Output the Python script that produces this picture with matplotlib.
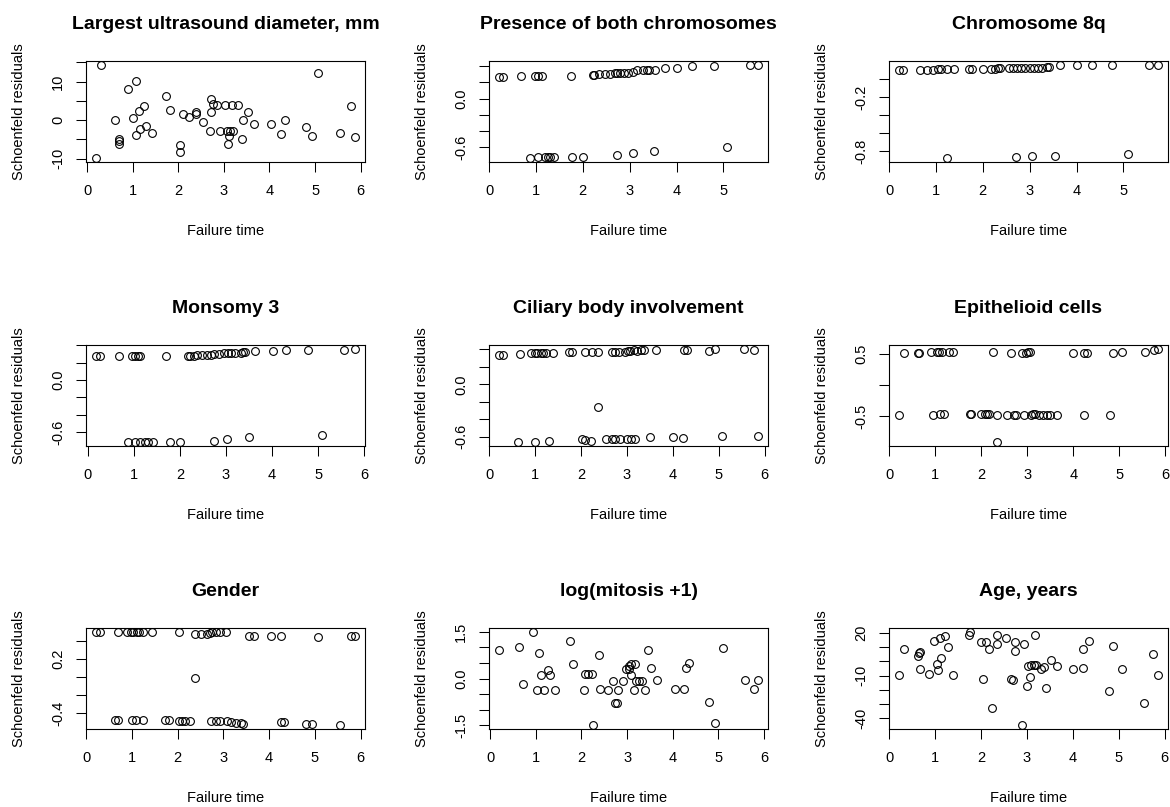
import matplotlib
matplotlib.use("Agg")
import matplotlib.pyplot as plt
from matplotlib.ticker import MultipleLocator

plt.rcParams['font.family'] = ['Liberation Sans', 'DejaVu Sans']

# panel titles
titles = ["Largest ultrasound diameter, mm", "Presence of both chromosomes", "Chromosome 8q",
          "Monsomy 3", "Ciliary body involvement", "Epithelioid cells",
          "Gender", "log(mitosis +1)", "Age, years"]

# Largest ultrasound diameter
t_diam = [0.20, 0.31, 0.62, 0.69, 0.69, 0.69, 0.90, 1.00, 1.07, 1.06, 1.14, 1.15, 1.25, 1.28, 1.43,
          1.73, 1.81, 2.03, 2.03, 2.10, 2.24, 2.38, 2.39, 2.55, 2.69, 2.72, 2.72, 2.77, 2.85, 2.92,
          3.03, 3.06, 3.08, 3.12, 3.14, 3.18, 3.19, 3.32, 3.39, 3.42, 3.52, 3.66, 4.04, 4.25, 4.35,
          4.80, 4.93, 5.07, 5.55, 5.80, 5.87]
r_diam = [-9.9, 14.4, 0.0, -4.9, -5.5, -6.2, 8.1, 0.5, 10.3, -3.8, 2.5, -2.3, 3.6, -1.4, -3.3,
          6.4, 2.7, -6.5, -8.4, 1.5, 0.8, 2.0, 1.5, -0.5, -2.9, 5.6, 2.0, 4.1, 4.0, -2.9,
          4.0, -2.9, -6.1, -4.1, -2.9, 4.0, -2.9, 4.0, -4.9, 0.0, 2.0, -0.9, -0.9, -3.6, 0.0,
          -1.9, -4.2, 12.3, -3.3, 3.6, -4.5]

# Presence of both chromosomes
t_both = [0.22, 0.30, 0.68, 0.98, 1.05, 1.12, 1.74, 2.21, 2.24, 2.35, 2.47, 2.58, 2.68, 2.73,
          2.79, 2.87, 2.97, 3.07, 3.16, 3.28, 3.38, 3.42, 3.55, 3.75, 4.00, 4.34, 4.79, 5.57, 5.73,
          0.88, 1.04, 1.20, 1.25, 1.31, 1.38, 1.76, 2.00, 2.73, 3.07, 3.51, 5.07]
r_both = [0.27, 0.27, 0.28, 0.28, 0.28, 0.28, 0.28, 0.29, 0.29, 0.30, 0.31, 0.31, 0.32, 0.32,
          0.32, 0.32, 0.32, 0.33, 0.35, 0.35, 0.36, 0.36, 0.36, 0.38, 0.38, 0.40, 0.40, 0.42, 0.42,
          -0.74, -0.73, -0.72, -0.72, -0.72, -0.72, -0.72, -0.72, -0.70, -0.68, -0.65, -0.60]

# Chromosome 8q
t_8q = [0.22, 0.29, 0.67, 0.82, 0.94, 1.05, 1.11, 1.24, 1.39, 1.71, 1.77, 2.00, 2.18, 2.26, 2.33,
        2.36, 2.55, 2.65, 2.74, 2.81, 2.91, 3.00, 3.09, 3.17, 3.27, 3.36, 3.41, 3.65, 4.00, 4.33,
        4.76, 5.55, 5.73, 1.23, 2.71, 3.05, 3.53, 5.10]
r_8q = [0.105, 0.105, 0.105, 0.105, 0.105, 0.11, 0.11, 0.11, 0.11, 0.11, 0.11, 0.11, 0.115, 0.115,
        0.12, 0.12, 0.125, 0.125, 0.125, 0.125, 0.125, 0.125, 0.125, 0.125, 0.125, 0.13, 0.14,
        0.155, 0.155, 0.155, 0.155, 0.16, 0.16, -0.88, -0.867, -0.85, -0.85, -0.83]

# Monosomy 3
t_mono = [0.19, 0.26, 0.68, 0.97, 1.03, 1.10, 1.14, 1.70, 2.17, 2.23, 2.30, 2.38, 2.48, 2.58, 2.67,
          2.73, 2.85, 2.95, 3.05, 3.12, 3.20, 3.32, 3.38, 3.42, 3.62, 4.01, 4.31, 4.77, 5.56, 5.79,
          0.87, 1.03, 1.14, 1.24, 1.30, 1.41, 1.78, 2.01, 2.73, 3.03, 3.51, 5.08]
r_mono = [0.271, 0.271, 0.271, 0.271, 0.271, 0.279, 0.279, 0.271, 0.271, 0.271, 0.279, 0.287, 0.29,
          0.29, 0.29, 0.295, 0.302, 0.306, 0.306, 0.306, 0.31, 0.31, 0.318, 0.326, 0.33, 0.33,
          0.345, 0.349, 0.349, 0.36,
          -0.717, -0.717, -0.717, -0.717, -0.717, -0.717, -0.717, -0.717, -0.698, -0.682, -0.659,
          -0.636]

# Ciliary body involvement
t_cil = [0.22, 0.30, 0.68, 0.90, 1.00, 1.05, 1.12, 1.17, 1.23, 1.38, 1.73, 1.80, 2.08, 2.23, 2.38,
         2.67, 2.75, 2.82, 2.95, 3.03, 3.07, 3.15, 3.22, 3.30, 3.38, 3.63, 4.25, 4.30, 4.78, 4.92,
         5.55, 5.78, 2.37,
         0.62, 1.00, 1.30, 2.03, 2.08, 2.22, 2.55, 2.68, 2.75, 2.85, 3.00, 3.10, 3.17, 3.50, 4.00,
         4.22, 5.08, 5.85]
r_cil = [0.335, 0.335, 0.342, 0.354, 0.354, 0.354, 0.354, 0.354, 0.354, 0.354, 0.373, 0.373, 0.373,
         0.373, 0.373, 0.373, 0.373, 0.373, 0.373, 0.38, 0.38, 0.392, 0.38, 0.392, 0.392, 0.392,
         0.392, 0.392, 0.385, 0.408, 0.408, 0.392, -0.26,
         -0.665, -0.665, -0.646, -0.627, -0.638, -0.646, -0.627, -0.627, -0.627, -0.627, -0.627,
         -0.627, -0.627, -0.608, -0.608, -0.62, -0.592, -0.592]

# Epithelioid cells
t_epi = [0.32, 0.62, 0.65, 0.90, 1.03, 1.08, 1.15, 1.30, 1.38, 2.25, 2.65, 2.88, 2.98, 3.02, 3.05,
         4.00, 4.22, 4.30, 4.87, 5.05, 5.55, 5.75, 5.83,
         0.22, 0.95, 1.10, 1.20, 1.75, 1.77, 2.00, 2.07, 2.12, 2.17, 2.35, 2.55, 2.72, 2.75, 2.92,
         3.07, 3.12, 3.17, 3.25, 3.35, 3.42, 3.50, 3.65, 4.22, 4.80, 2.35]
r_epi = [0.51, 0.51, 0.51, 0.53, 0.53, 0.53, 0.53, 0.53, 0.53, 0.53, 0.51, 0.51, 0.52, 0.54, 0.54,
         0.51, 0.51, 0.51, 0.51, 0.54, 0.54, 0.565, 0.585,
         -0.484, -0.484, -0.462, -0.462, -0.462, -0.462, -0.462, -0.462, -0.462, -0.462, -0.484,
         -0.484, -0.484, -0.484, -0.484, -0.484, -0.462, -0.473, -0.484, -0.484, -0.484, -0.484,
         -0.484, -0.484, -0.484, -0.92]

# Gender
t_gen = [0.22, 0.30, 0.70, 0.90, 0.97, 1.03, 1.10, 1.15, 1.25, 1.43, 2.03, 2.38, 2.50, 2.63, 2.70,
         2.75, 2.83, 2.92, 3.05, 3.55, 3.67, 4.03, 4.25, 5.07, 5.80, 5.87, 2.38,
         0.62, 0.70, 1.00, 1.08, 1.25, 1.73, 1.80, 2.03, 2.10, 2.17, 2.27, 2.72, 2.83, 2.93, 3.08,
         3.17, 3.28, 3.38, 3.42, 4.25, 4.32, 4.80, 4.93, 5.55]
r_gen = [0.498, 0.498, 0.498, 0.498, 0.498, 0.498, 0.498, 0.498, 0.505, 0.505, 0.498, 0.479, 0.479,
         0.479, 0.49, 0.505, 0.505, 0.505, 0.505, 0.46, 0.46, 0.46, 0.46, 0.442, 0.46, 0.46, -0.012,
         -0.47, -0.47, -0.47, -0.47, -0.47, -0.47, -0.47, -0.488, -0.488, -0.488, -0.488, -0.488,
         -0.488, -0.488, -0.488, -0.496, -0.507, -0.507, -0.518, -0.5, -0.5, -0.518, -0.518, -0.533]

# log(mitosis + 1)
t_mit = [0.20, 0.64, 0.71, 0.93, 1.02, 1.08, 1.11, 1.17, 1.26, 1.30, 1.43, 1.74, 1.82, 2.05, 2.08,
         2.14, 2.22, 2.26, 2.39, 2.40, 2.57, 2.69, 2.73, 2.77, 2.81, 2.91, 2.97, 3.04, 3.05, 3.08,
         3.09, 3.14, 3.18, 3.20, 3.27, 3.32, 3.39, 3.46, 3.52, 3.66, 4.04, 4.25, 4.28, 4.35, 4.80,
         4.92, 5.09, 5.58, 5.78, 5.86]
r_mit = [0.91, 1.00, -0.19, 1.50, -0.38, 0.81, 0.11, -0.38, 0.27, 0.11, -0.38, 1.21, 0.46, -0.38,
         0.15, 0.15, 0.15, -1.50, 0.75, -0.34, -0.38, -0.08, -0.78, -0.78, -0.38, -0.08, 0.31, 0.41,
         0.31, 0.11, 0.46, -0.38, 0.46, -0.08, -0.08, -0.08, -0.38, 0.91, 0.35, -0.04, -0.34, -0.34,
         0.35, 0.51, -0.75, -1.44, 0.97, -0.04, -0.34, -0.04]

# Age, years
t_age = [0.22, 0.32, 0.63, 0.65, 0.68, 0.68, 0.86, 0.97, 1.05, 1.07, 1.10, 1.12, 1.22, 1.28, 1.38,
         1.73, 1.77, 2.00, 2.05, 2.10, 2.18, 2.25, 2.35, 2.35, 2.55, 2.65, 2.70, 2.73, 2.75, 2.90,
         2.93, 3.00, 3.02, 3.07, 3.10, 3.15, 3.18, 3.20, 3.30, 3.38, 3.42, 3.52, 3.65, 4.00, 4.22,
         4.23, 4.35, 4.80, 4.88, 5.07, 5.55, 5.75, 5.85]
r_age = [-9.8, 9.1, 4.2, 5.8, 7.0, -5.4, -8.9, 14.5, -1.6, -6.3, 16.6, 2.3, 17.8, 10.0, -9.8,
         18.7, 21.0, 13.6, -12.1, 13.6, 8.6, -33.2, 18.9, 12.4, 16.6, -12.1, -12.9, 13.6, 7.5, -45.1,
         12.4, -17.5, -3.5, -11.0, -2.3, -2.3, 18.9, -2.3, -5.4, -4.0, -18.7, 1.2, -3.0, -5.4, 8.6,
         -4.7, 14.3, -21.0, 11.0, -5.4, -29.7, 5.4, -9.8]

times = [t_diam, t_both, t_8q, t_mono, t_cil, t_epi, t_gen, t_mit, t_age]
resids = [r_diam, r_both, r_8q, r_mono, r_cil, r_epi, r_gen, r_mit, r_age]

# y ticks and which of them carry a label (R drops overlapping ones)
yticks = [[-10, -5, 0, 5, 10, 15], [-0.6, -0.4, -0.2, 0.0, 0.2, 0.4], [-0.8, -0.6, -0.4, -0.2, 0.0],
          [-0.6, -0.4, -0.2, 0.0, 0.2, 0.4], [-0.6, -0.4, -0.2, 0.0, 0.2, 0.4], [-0.5, 0.0, 0.5],
          [-0.4, -0.2, 0.0, 0.2, 0.4], [-1.5, -1.0, -0.5, 0.0, 0.5, 1.0, 1.5],
          [-40, -30, -20, -10, 0, 10, 20]]
ylabels = [["-10", "", "0", "", "10", ""], ["-0.6", "", "", "0.0", "", ""], ["-0.8", "", "", "-0.2", ""],
           ["-0.6", "", "", "0.0", "", ""], ["-0.6", "", "", "0.0", "", ""], ["-0.5", "", "0.5"],
           ["-0.4", "", "", "0.2", ""], ["-1.5", "", "", "0.0", "", "", "1.5"],
           ["-40", "", "", "-10", "", "", "20"]]

W, H = 1170, 807
fig = plt.figure(figsize=(W / 100, H / 100), dpi=100)

col_left = [86, 489, 889]
row_top = [61, 345, 628]
aw, ah = 279, 101

for i in range(9):
    r, c = divmod(i, 3)
    ax = fig.add_axes([col_left[c] / W, 1 - (row_top[r] + ah) / H, aw / W, ah / H])
    ax.plot(times[i], resids[i], 'o', mfc='none', mec='black', ms=5.6, mew=0.8)
    ax.margins(0.04)
    ax.xaxis.set_major_locator(MultipleLocator(1))
    ax.set_yticks(yticks[i])
    ax.set_yticklabels(ylabels[i], rotation=90, va='center')
    ax.tick_params(direction='out', length=7, width=0.75, labelsize=10.5, pad=8)
    ax.tick_params(axis='x', pad=9)
    for s in ax.spines.values():
        s.set_linewidth(0.8)
    ax.set_title(titles[i], fontsize=14, fontweight='bold', pad=23)
    ax.set_xlabel("Failure time", fontsize=10.5)
    ax.set_ylabel("Schoenfeld residuals", fontsize=10.5)
    ax.xaxis.set_label_coords(0.5, -0.61)
    ax.yaxis.set_label_coords(-0.215, 0.5)

fig.savefig("out.png", dpi=100)
